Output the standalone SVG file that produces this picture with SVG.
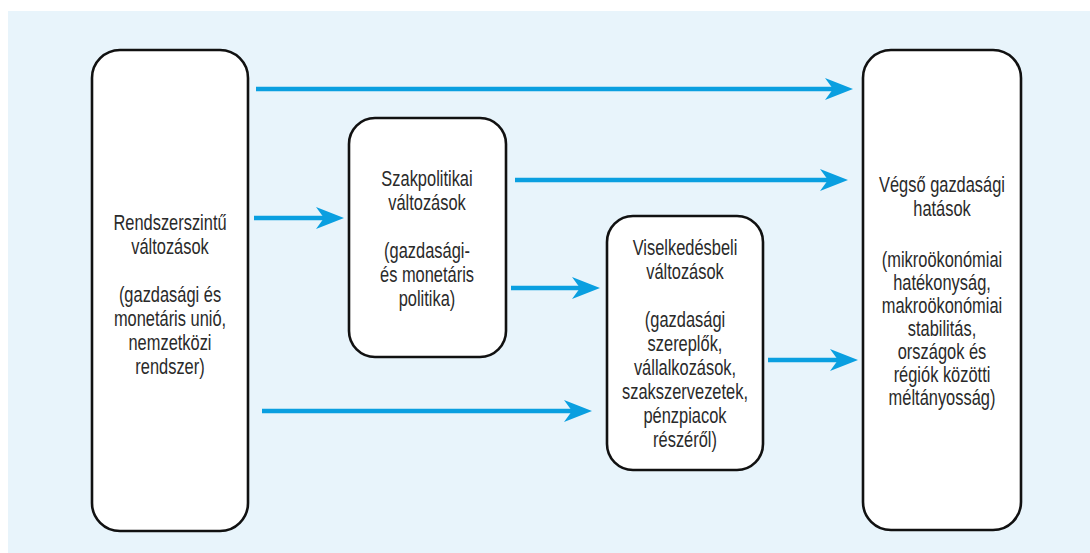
<svg xmlns="http://www.w3.org/2000/svg" width="1090" height="553" viewBox="0 0 1090 553">
<style>
.box{fill:#ffffff;stroke:#111111;stroke-width:2.6}
.lbl{font-family:"Liberation Sans",Arial,sans-serif;font-size:22.5px;fill:#2a2a2a;text-anchor:middle}
.arr{stroke:#0a9fe0;stroke-width:4.5;fill:none;marker-end:url(#ah)}
</style>
<defs>
<marker id="ah" markerUnits="userSpaceOnUse" markerWidth="30" markerHeight="24" refX="8" refY="11" orient="auto" viewBox="0 0 30 24">
<path d="M0,0 L28,11 L0,22 L8,11 Z" fill="#0a9fe0"/>
</marker>
</defs>
<rect x="8" y="11" width="1082" height="542" fill="#e8f4fb"/>
<g id="connectors">
<line class="arr" x1="256" y1="89" x2="833" y2="89"/>
<line class="arr" x1="515" y1="180" x2="828" y2="180"/>
<line class="arr" x1="254" y1="218" x2="324" y2="218"/>
<line class="arr" x1="511" y1="288" x2="580" y2="288"/>
<line class="arr" x1="262" y1="411" x2="572" y2="411"/>
<line class="arr" x1="768" y1="360" x2="838" y2="360"/>
</g>
<g id="node-rendszerszintu">
<rect class="box" x="92" y="50" width="156" height="481" rx="28"/>
<g transform="translate(170,0) scale(0.73,1)">
<text class="lbl" x="0" y="230">Rendszerszintű</text>
<text class="lbl" x="0" y="254">változások</text>
<text class="lbl" x="0" y="302">(gazdasági és</text>
<text class="lbl" x="0" y="326">monetáris unió,</text>
<text class="lbl" x="0" y="350">nemzetközi</text>
<text class="lbl" x="0" y="374">rendszer)</text>
</g>
</g>
<g id="node-szakpolitikai">
<rect class="box" x="349" y="118" width="157" height="239" rx="26"/>
<g transform="translate(427,0) scale(0.73,1)">
<text class="lbl" x="0" y="186">Szakpolitikai</text>
<text class="lbl" x="0" y="210">változások</text>
<text class="lbl" x="0" y="258">(gazdasági-</text>
<text class="lbl" x="0" y="282">és monetáris</text>
<text class="lbl" x="0" y="306">politika)</text>
</g>
</g>
<g id="node-viselkedesbeli">
<rect class="box" x="607" y="216" width="156" height="254" rx="26"/>
<g transform="translate(685,0) scale(0.73,1)">
<text class="lbl" x="0" y="255">Viselkedésbeli</text>
<text class="lbl" x="0" y="279">változások</text>
<text class="lbl" x="0" y="327">(gazdasági</text>
<text class="lbl" x="0" y="351">szereplők,</text>
<text class="lbl" x="0" y="375">vállalkozások,</text>
<text class="lbl" x="0" y="399">szakszervezetek,</text>
<text class="lbl" x="0" y="423">pénzpiacok</text>
<text class="lbl" x="0" y="447">részéről)</text>
</g>
</g>
<g id="node-vegso">
<rect class="box" x="863" y="50" width="158" height="480" rx="28"/>
<g transform="translate(942,0) scale(0.73,1)">
<text class="lbl" x="0" y="192">Végső gazdasági</text>
<text class="lbl" x="0" y="216">hatások</text>
<text class="lbl" x="0" y="267">(mikroökonómiai</text>
<text class="lbl" x="0" y="290">hatékonyság,</text>
<text class="lbl" x="0" y="313">makroökonómiai</text>
<text class="lbl" x="0" y="336">stabilitás,</text>
<text class="lbl" x="0" y="359">országok és</text>
<text class="lbl" x="0" y="382">régiók közötti</text>
<text class="lbl" x="0" y="405">méltányosság)</text>
</g>
</g>
</svg>
